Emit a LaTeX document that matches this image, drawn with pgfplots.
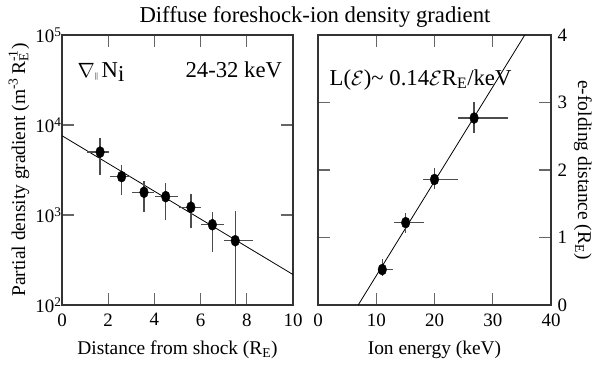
\documentclass[border=0pt]{standalone}
\usepackage{fontspec}
\setmainfont{Liberation Serif}
\usepackage{pgfplots}
\pgfplotsset{compat=1.18}
\usepackage{pgfplotstable}

\pgfplotstableread{
x    y     xm    xp    ym    yp
1.65 5000  0.57  0.37  2250  2100
2.58 2670  0.50  0.36  1010  970
3.55 1790  0.53  0.43  720   610
4.49 1600  0.46  0.54  710   690
5.58 1220  0.50  0.42  510   480
6.51 780   0.51  0.49  390   310
7.50 518   0.50  0.75  418   602
}\leftdata

\pgfplotstableread{
x     y      xm    xp    ym     yp
11.04 0.525  0.79  1.86  0.095  0.155
15.05 1.22   1.95  3.15  0.16   0.14
20.0  1.86   1.90  4.10  0.14   0.17
26.8  2.77   2.70  5.80  0.22   0.24
}\rightdata

\begin{document}
\begin{tikzpicture}
\path[use as bounding box] (-62bp,-60bp) rectangle (533bp,305bp);
\pgfplotsset{common/.style={
  scale only axis, width=231bp, height=270bp,
  axis line style={line width=1.1bp, black!80},
  tick style={line width=1.2bp, black!60},
  major tick length=12bp, tick align=inside,
  ticklabel style={font=\fontsize{19}{19}\selectfont},
  xticklabel style={yshift=-5bp},
  /pgf/number format/assume math mode=true,
  every axis x label/.style={at={(axis description cs:0.5,-0.167)}, anchor=center, font=\fontsize{19.5}{20}\selectfont},
  errbars/.style={only marks, mark=*, mark size=4.3bp,
    mark options={yscale=1.3, fill=black, draw=black},
    error bars/.cd, x dir=both, x explicit, y dir=both, y explicit,
    error mark=none, error bar style={line width=1.3bp, black!70}},
}}
\begin{axis}[common, at={(0,0)}, anchor=south west,
  xmin=0, xmax=10, xtick={0,2,4,6,8,10},
  ymode=log, ymin=100, ymax=100000, ytick={100,1000,10000,100000},
  yticklabels={10\textsuperscript{2},10\textsuperscript{3},10\textsuperscript{4},10\textsuperscript{5}},
  yticklabel style={xshift=3bp},
  yminorticks=false,
  xlabel={Distance from shock (R\textsubscript{E})},
  ylabel={Partial density gradient (m\textsuperscript{-3}\,R\rlap{\textsubscript{E}}\textsuperscript{-1})},
  every axis y label/.style={at={(axis description cs:-0.186,0.5)}, anchor=center, rotate=90, font=\fontsize{19.5}{20}\selectfont},
]
\addplot[black, line width=0.8bp, mark=none] coordinates {(0,7600) (10,218)};
\addplot[errbars] table[x=x, y=y, x error minus=xm, x error plus=xp, y error minus=ym, y error plus=yp] {\leftdata};
\node[anchor=base west, font=\fontsize{22.8}{24}\selectfont] at (axis description cs:0.052,0.844)
  {$\nabla$\raisebox{-1bp}{\fontsize{8}{8}\selectfont ||}\,N\raisebox{-4bp}{i}};
\node[anchor=base east, font=\fontsize{22.8}{24}\selectfont] at (axis description cs:0.968,0.844) {24-32 keV};
\end{axis}

\begin{axis}[common, at={(256bp,0)}, anchor=south west, width=233bp,
  xmin=0, xmax=40, xtick={0,10,20,30,40},
  ymin=0, ymax=4, ytick={0,1,2,3,4},
  yticklabel pos=right,
  yticklabel style={xshift=3bp},
  xlabel={Ion energy (keV)},
  ylabel={e-folding distance (R\textsubscript{E})},
  every axis y label/.style={at={(axis description cs:1.137,0.5)}, anchor=center, rotate=-90, font=\fontsize{19.5}{20}\selectfont},
]
\addplot[black, line width=0.8bp, mark=none] coordinates {(6.9,0) (35.5,4)};
\addplot[errbars] table[x=x, y=y, x error minus=xm, x error plus=xp, y error minus=ym, y error plus=yp] {\rightdata};
\node[anchor=base west, font=\fontsize{22.8}{24}\selectfont] at (axis description cs:0.035,0.814)
  {L($\mathcal{E}$)\textasciitilde\ 0.14$\mathcal{E}$R\textsubscript{E}/keV};
\end{axis}

\node[anchor=base, font=\fontsize{22.8}{24}\selectfont] at (253bp,282bp) {Diffuse foreshock-ion density gradient};
\end{tikzpicture}
\end{document}
